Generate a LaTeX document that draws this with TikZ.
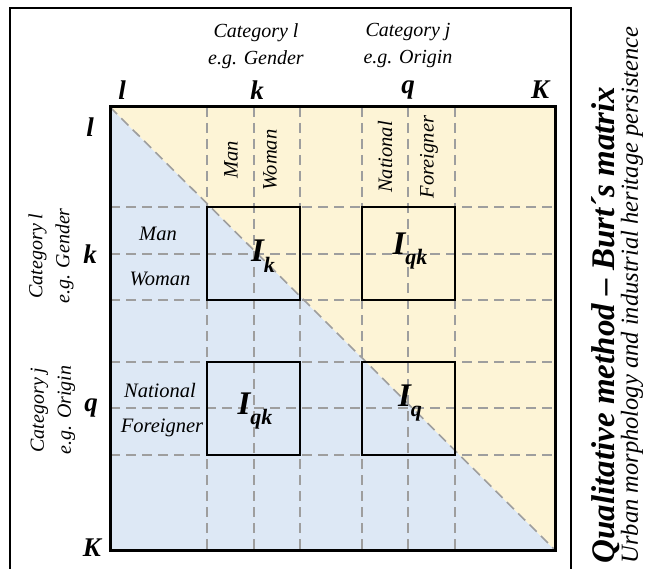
\documentclass[tikz,border=0pt]{standalone}
\usepackage{fontspec}
\setmainfont{Liberation Serif}
\newlength{\du}
\setlength{\du}{1\unitlength}
\definecolor{burtyellow}{RGB}{253,244,214}
\definecolor{burtblue}{RGB}{221,232,245}
\definecolor{gridgray}{RGB}{158,158,158}
\newcommand{\Isub}[1]{I\raisebox{-0.32em}{\fontsize{22}{22}\selectfont #1}}
\tikzset{
  gridline/.style={draw=gridgray, line width=1.6\du, dash pattern=on 10\du off 6\du},
  cellbox/.style={draw=black, line width=1.8\du},
  idx/.style={font=\fontsize{27}{27}\selectfont\bfseries\itshape, inner sep=0pt},
  cat/.style={font=\fontsize{20}{27}\selectfont\itshape, align=center, inner sep=0pt},
  lvl/.style={font=\fontsize{20.5}{20.5}\selectfont\itshape, inner sep=0pt},
  bigI/.style={font=\fontsize{33}{33}\selectfont\bfseries\itshape, inner sep=0pt},
}
\begin{document}
\begin{tikzpicture}
\pgftransformxscale{1.000000}
\pgftransformyscale{-1.000000}
\useasboundingbox (0\du,0\du) rectangle (645\du,569\du);
% outer frame
\pgfsetlinewidth{2.6\du}
\draw (10\du,569\du)--(10\du,8\du)--(571\du,8\du)--(571\du,569\du);
% lower and upper triangle
\fill[burtblue] (110\du,107\du)--(110\du,550\du)--(555\du,550\du)--cycle;
\fill[burtyellow] (110\du,107\du)--(555\du,107\du)--(555\du,550\du)--cycle;
% dashed grid
\foreach \p in {207,254,300,362,408,455}{
  \draw[gridline] (\p\du,107\du)--(\p\du,550\du);
  \draw[gridline] (110\du,\p\du)--(555\du,\p\du);
}
\draw[gridline] (110\du,107\du)--(555\du,550\du);
% sub tables
\draw[cellbox] (207\du,207\du) rectangle (300\du,300\du);
\draw[cellbox] (362\du,207\du) rectangle (455\du,300\du);
\draw[cellbox] (207\du,362\du) rectangle (300\du,455\du);
\draw[cellbox] (362\du,362\du) rectangle (455\du,455\du);
\draw[line width=3\du] (110\du,107\du) rectangle (555\du,550\du);
% category headings
\node[cat] (catTopL) at (256\du,46\du){Category l\\e.g. Gender};
\node[cat] (catTopJ) at (408\du,46\du){Category j\\e.g. Origin};
\node[cat, rotate=90] (catLeftL) at (51\du,256\du){Category l\\e.g. Gender};
\node[cat, rotate=90] (catLeftJ) at (53\du,410\du){Category j\\e.g. Origin};
% indices
\node[idx] (topL) at (122\du,90\du){l};
\node[idx] (topK) at (257\du,90\du){k};
\node[idx] (topQ) at (408\du,90\du){q};
\node[idx] (topKK) at (540\du,90\du){K};
\node[idx] (leftL) at (90\du,127\du){l};
\node[idx] (leftK) at (90\du,254\du){k};
\node[idx] (leftQ) at (91\du,408\du){q};
\node[idx] (leftKK) at (92\du,548\du){K};
% levels
\node[lvl, rotate=90] (colMan) at (231\du,160\du){Man};
\node[lvl, rotate=90] (colWoman) at (270\du,160\du){Woman};
\node[lvl, rotate=90] (colNational) at (385\du,157\du){National};
\node[lvl, rotate=90] (colForeigner) at (429\du,157\du){Foreigner};
\node[lvl] (rowMan) at (158\du,234\du){Man};
\node[lvl] (rowWoman) at (160\du,279\du){Woman};
\node[lvl] (rowNational) at (160\du,390\du){National};
\node[lvl] (rowForeigner) at (162\du,428\du){Foreigner};
% blocks
\node[bigI] (Ik) at (263\du,256\du){\Isub{k}};
\node[bigI] (Iqk) at (410\du,251\du){\Isub{qk}};
\node[bigI] (Ikq) at (255\du,411\du){\Isub{qk}};
\node[bigI] (Iq) at (410\du,403\du){\Isub{q}};
% side title
\node[font=\fontsize{33}{33}\selectfont\bfseries\itshape, rotate=90, inner sep=0pt] (title) at (606\du,325\du){Qualitative method – Burt´s matrix};
\node[font=\fontsize{24.5}{24.5}\selectfont\itshape, rotate=90, inner sep=0pt] (subtitle) at (632\du,295\du){Urban morphology and industrial heritage persistence};
\end{tikzpicture}
\end{document}
